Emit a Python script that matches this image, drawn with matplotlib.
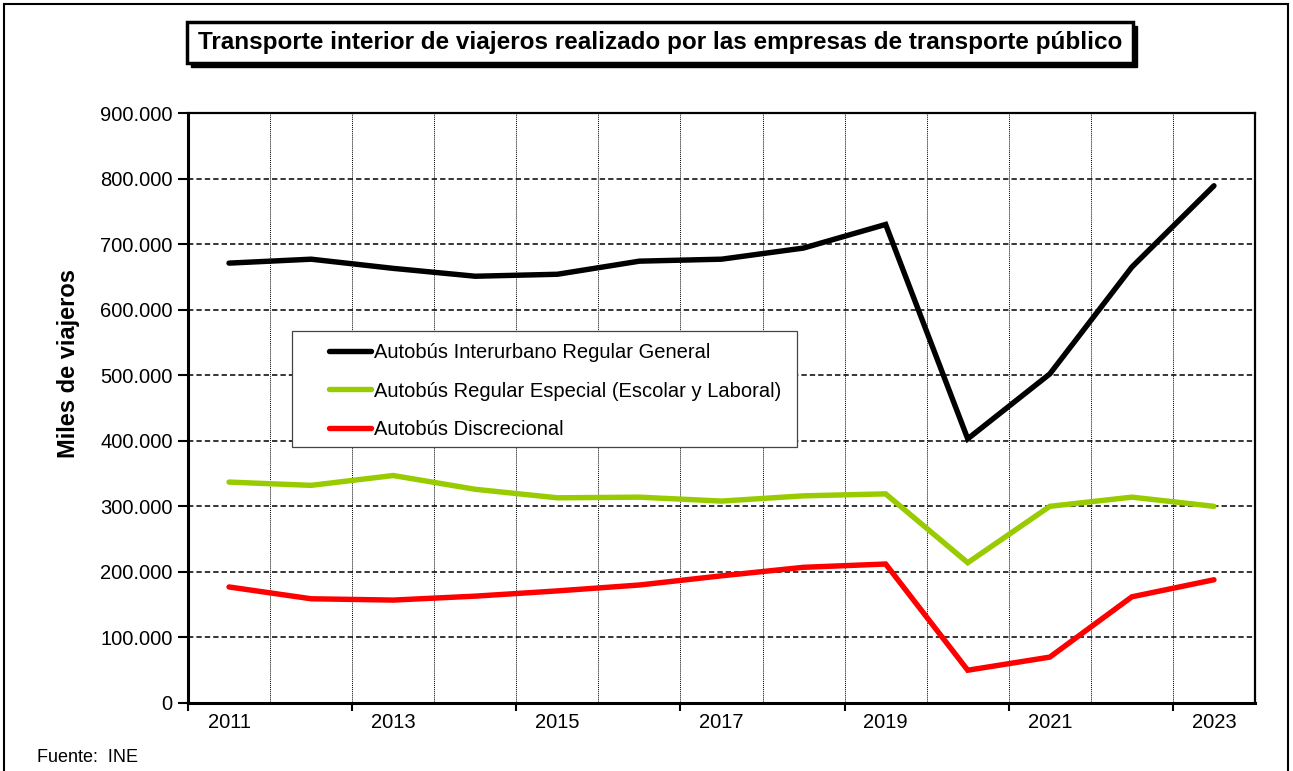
import matplotlib
matplotlib.use("Agg")
import matplotlib.pyplot as plt
from matplotlib.patches import Rectangle
from matplotlib.ticker import FuncFormatter
import numpy as np

plt.rcParams["font.family"] = ["Liberation Sans", "DejaVu Sans"]

YEARS = [2011, 2012, 2013, 2014, 2015, 2016, 2017, 2018, 2019, 2020, 2021, 2022, 2023]
INTERURBANO = [671, 677, 663, 651, 654, 674, 677, 694, 730, 403, 502, 665, 789]
ESPECIAL = [337, 332, 347, 326, 313, 314, 308, 316, 319, 214, 300, 314, 300]
DISCRECIONAL = [177, 159, 157, 163, 171, 180, 194, 207, 212, 50, 70, 162, 188]

SERIES = [
    ("Autobús Interurbano Regular General", INTERURBANO, "#000000"),
    ("Autobús Regular Especial (Escolar y Laboral)", ESPECIAL, "#99CC00"),
    ("Autobús Discrecional", DISCRECIONAL, "#FF0000"),
]

fig = plt.figure(figsize=(12.93, 7.71), dpi=100, facecolor="white")
W, H = 1293, 771
ax = fig.add_axes([188 / W, (H - 703) / H, (1255 - 188) / W, (703 - 113) / H])

x = np.arange(len(YEARS))
for label, vals, col in SERIES:
    ax.plot(x, np.array(vals) * 1000, color=col, lw=3.9, label=label,
            solid_capstyle="round", solid_joinstyle="miter", zorder=3)

ax.set_xlim(-0.5, len(YEARS) - 0.5)
ax.set_ylim(0, 900000)

# horizontal dashed grid
for yv in range(100000, 900000, 100000):
    ax.axhline(yv, color="black", lw=1.1, ls=(0, (3.5, 2)), zorder=1)
# vertical dotted grid at category boundaries
for b in np.arange(0.5, len(YEARS) - 1, 1.0):
    ax.axvline(b, color="black", lw=0.7, ls=(0, (1, 1)), zorder=1)

ax.set_yticks(range(0, 900001, 100000))
ax.yaxis.set_major_formatter(FuncFormatter(
    lambda v, p: "0" if v == 0 else f"{int(v):,}".replace(",", ".")))
ax.tick_params(axis="y", direction="out", length=7, width=1.5, labelsize=14.5, pad=4)

ax.set_xticks(np.arange(-0.5, len(YEARS), 2.0))
ax.set_xticklabels([])
ax.tick_params(axis="x", which="major", direction="out", length=6, width=1.5)
ax.set_xticks(x[::2], minor=True)
ax.set_xticklabels([str(y) for y in YEARS[::2]], minor=True)
ax.tick_params(axis="x", which="minor", length=0, labelsize=14.5, pad=7)

for side in ["left", "bottom"]:
    ax.spines[side].set_linewidth(2.2)
for side in ["top", "right"]:
    ax.spines[side].set_linewidth(1.6)

ax.set_ylabel("Miles de viajeros", fontsize=17, fontweight="bold")
ax.yaxis.set_label_coords((80 - 188) / (1255 - 188), (703 - 364) / (703 - 113))

# legend: frame drawn separately to get Excel-like wide left padding
ax.add_patch(Rectangle((292 / W, (H - 447) / H), (797 - 292) / W, (447 - 331) / H,
                       transform=fig.transFigure, facecolor="white",
                       edgecolor="#444444", lw=0.9, zorder=4, clip_on=False))
leg = ax.legend(loc="upper left",
                bbox_to_anchor=((329 - 188) / (1255 - 188), (703 - 343) / (703 - 113)),
                fontsize=14.5, frameon=False,
                handlelength=2.1, handletextpad=0.15, labelspacing=0.97,
                borderpad=0, borderaxespad=0)
leg.set_zorder(6)

# title box with shadow
fig.patches.append(Rectangle((191 / W, (H - 67) / H), (1137 - 191) / W, 41 / H,
                             transform=fig.transFigure, facecolor="black",
                             edgecolor="black", zorder=1))
fig.patches.append(Rectangle((187 / W, (H - 63) / H), (1133 - 187) / W, 41 / H,
                             transform=fig.transFigure, facecolor="white",
                             edgecolor="black", lw=2.5, zorder=2))
fig.text((187 + 1133) / 2 / W, (H - 42.5) / H,
         "Transporte interior de viajeros realizado por las empresas de transporte público",
         ha="center", va="center", fontsize=17.5, fontweight="bold", zorder=3)

fig.text(37 / W, (H - 757) / H, "Fuente:  INE", ha="left", va="center", fontsize=13)

# outer frame
fig.patches.append(Rectangle((4 / W, -0.01), (1288 - 4) / W, (H - 4) / H + 0.01,
                             transform=fig.transFigure, facecolor="none",
                             edgecolor="black", lw=1.5, zorder=0))

fig.savefig("out.png", dpi=100, facecolor="white")
